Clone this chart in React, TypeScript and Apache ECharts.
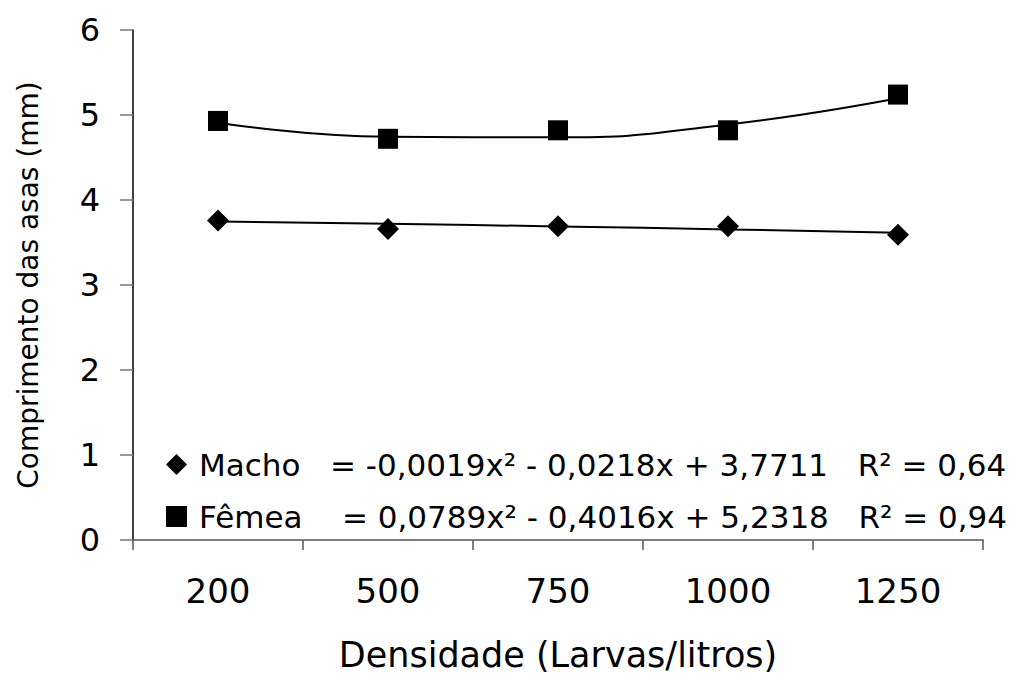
import React, { useEffect, useRef } from "react";
import * as echarts from "echarts";

const categories = ["200", "500", "750", "1000", "1250"];
const machoValues = [3.76, 3.66, 3.69, 3.69, 3.59];
const femeaValues = [4.93, 4.72, 4.82, 4.82, 5.24];
// trendline values read at each category (from printed equations / picture)
const machoTrend = [3.747, 3.72, 3.689, 3.654, 3.615];
const femeaTrend = [4.909, 4.744, 4.737, 4.888, 5.196];
const machoLabel = "Macho   = -0,0019x² - 0,0218x + 3,7711   R² = 0,64";
const femeaLabel = "Fêmea    = 0,0789x² - 0,4016x + 5,2318   R² = 0,94";

const FONT = "DejaVu Sans, Liberation Sans, Arial, sans-serif";

export default function App() {
  const ref = useRef<HTMLDivElement>(null);
  useEffect(() => {
    const chart = echarts.init(ref.current!, null, { renderer: "svg" });
    chart.setOption({
      animation: false,
      backgroundColor: "#ffffff",
      textStyle: { fontFamily: FONT },
      grid: { left: 133, right: 30, top: 30, bottom: 136 },
      legend: {
        orient: "vertical",
        left: 161,
        top: 444,
        itemWidth: 21,
        itemHeight: 21,
        itemGap: 21,
        data: [
          { name: "Macho", icon: "diamond" },
          { name: "Fêmea", icon: "rect" },
        ],
        formatter: (name: string) => (name === "Macho" ? machoLabel : femeaLabel),
        textStyle: {
          fontSize: 31,
          color: "#000",
          fontFamily: FONT,
          padding: [0, 0, 0, 7],
        },
      },
      xAxis: {
        type: "category",
        data: categories,
        boundaryGap: true,
        name: "Densidade (Larvas/litros)",
        nameLocation: "middle",
        nameGap: 97,
        nameTextStyle: { fontSize: 35, color: "#000", fontFamily: FONT },
        axisLine: { lineStyle: { color: "#555", width: 1.5 } },
        axisTick: { show: true, length: 10, lineStyle: { color: "#555", width: 1.5 } },
        axisLabel: { fontSize: 34, color: "#000", margin: 34, fontFamily: FONT },
        splitLine: { show: false },
      },
      yAxis: {
        type: "value",
        min: 0,
        max: 6,
        interval: 1,
        name: "Comprimento das asas (mm)",
        nameLocation: "middle",
        nameGap: 91,
        nameTextStyle: { fontSize: 28, color: "#000", fontFamily: FONT },
        axisLine: { show: true, lineStyle: { color: "#000", width: 1.5 } },
        axisTick: { show: true, length: 13, lineStyle: { color: "#777", width: 1.5 } },
        axisLabel: { fontSize: 32, color: "#000", margin: 33, fontFamily: FONT },
        splitLine: { show: false },
      },
      series: [
        {
          name: "MachoTrend",
          type: "line",
          data: machoTrend,
          smooth: true,
          symbol: "none",
          lineStyle: { color: "#000", width: 2 },
          silent: true,
        },
        {
          name: "FemeaTrend",
          type: "line",
          data: femeaTrend,
          smooth: true,
          symbol: "none",
          lineStyle: { color: "#000", width: 2 },
          silent: true,
        },
        {
          name: "Macho",
          type: "scatter",
          data: machoValues,
          symbol: "diamond",
          symbolSize: 22,
          itemStyle: { color: "#000", opacity: 1 },
        },
        {
          name: "Fêmea",
          type: "scatter",
          data: femeaValues,
          symbol: "rect",
          symbolSize: 20,
          itemStyle: { color: "#000", opacity: 1 },
        },
      ],
    });
    return () => chart.dispose();
  }, []);
  return (
    <div
      ref={ref}
      style={{ position: "absolute", left: 0, top: 0, width: 1013, height: 677 }}
    />
  );
}
